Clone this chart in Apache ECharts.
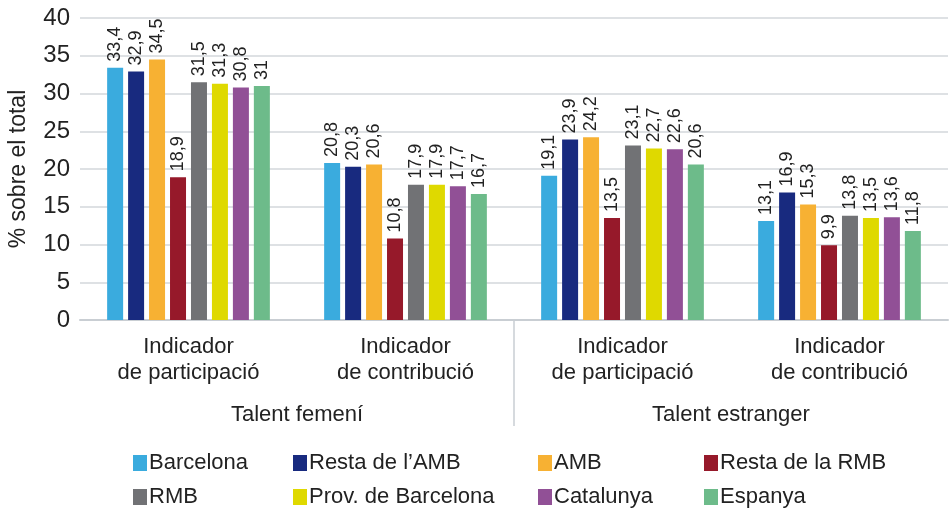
<!DOCTYPE html>
<html>
<head>
<meta charset="utf-8">
<script src="https://cdn.jsdelivr.net/npm/echarts@6/dist/echarts.min.js"></script>
<style>
  html, body { margin: 0; padding: 0; background: #fff; }
  #main { width: 952px; height: 514px; }
</style>
</head>
<body>
<div id="main"></div>
<script>
// categories and groups
var categories = ['Indicador\nde participació', 'Indicador\nde contribució', 'Indicador\nde participació', 'Indicador\nde contribució'];
var groups = ['Talent femení', 'Talent estranger'];
var yTicks = [0, 5, 10, 15, 20, 25, 30, 35, 40];

// series values (femení participació, femení contribució, estranger participació, estranger contribució)
var barcelona = [33.4, 20.8, 19.1, 13.1];
var restaAmb = [32.9, 20.3, 23.9, 16.9];
var amb = [34.5, 20.6, 24.2, 15.3];
var restaRmb = [18.9, 10.8, 13.5, 9.9];
var rmb = [31.5, 17.9, 23.1, 13.8];
var provBcn = [31.3, 17.9, 22.7, 13.5];
var catalunya = [30.8, 17.7, 22.6, 13.6];
var espanya = [31, 16.7, 20.6, 11.8];

var seriesNames = ['Barcelona', 'Resta de l\u2019AMB', 'AMB', 'Resta de la RMB', 'RMB', 'Prov. de Barcelona', 'Catalunya', 'Espanya'];
var seriesData = [barcelona, restaAmb, amb, restaRmb, rmb, provBcn, catalunya, espanya];
var colors = ['#3aabde', '#182a7f', '#f7b133', '#96192a', '#717275', '#dfd900', '#915096', '#6dbb8a'];

var font = 'Liberation Sans, Arial, sans-serif';
var textColor = '#222';

var series = seriesNames.map(function (name, i) {
  return {
    name: name,
    type: 'bar',
    xAxisIndex: 0,
    data: seriesData[i],
    barWidth: 16,
    barGap: '31%',
    itemStyle: { color: colors[i] },
    label: {
      show: true,
      position: 'top',
      rotate: 90,
      align: 'left',
      verticalAlign: 'middle',
      distance: 6,
      fontFamily: font,
      fontSize: 18,
      color: textColor,
      formatter: function (p) { return String(p.value).replace('.', ','); }
    }
  };
});

// legend: 4 columns x 2 rows, one legend per item
var legendCols = [133, 293, 538, 704];
var legendRows = [452, 486];
var legends = seriesNames.map(function (name, i) {
  return {
    left: legendCols[i % 4],
    top: legendRows[Math.floor(i / 4)],
    itemWidth: 14,
    itemHeight: 16,
    itemGap: 0,
    padding: 0,
    icon: 'rect',
    data: [name],
    textStyle: { fontFamily: font, fontSize: 22, color: textColor, padding: [0, 0, 0, -3] }
  };
});

var option = {
  animation: false,
  textStyle: { fontFamily: font },
  grid: { left: 80, right: 4, top: 18, bottom: 194, containLabel: false, outerBoundsMode: 'none' },
  legend: legends,
  xAxis: [
    {
      type: 'category',
      data: categories,
      axisLine: { lineStyle: { color: '#c9ced3', width: 2 } },
      axisTick: { show: false },
      axisLabel: { fontFamily: font, fontSize: 22, color: textColor, lineHeight: 26, margin: 14 }
    },
    {
      type: 'category',
      data: groups,
      position: 'bottom',
      offset: 80,
      axisLine: { show: false },
      axisTick: { show: false },
      axisLabel: { fontFamily: font, fontSize: 22, color: textColor, margin: 4 }
    }
  ],
  yAxis: {
    type: 'value',
    min: yTicks[0],
    max: yTicks[yTicks.length - 1],
    interval: 5,
    name: '% sobre el total',
    nameLocation: 'middle',
    nameGap: 50,
    nameTextStyle: { fontFamily: font, fontSize: 23, color: textColor },
    axisLine: { show: false },
    axisTick: { show: false },
    axisLabel: { fontFamily: font, fontSize: 24, color: textColor, margin: 10 },
    splitLine: { lineStyle: { color: '#d3d7db', width: 1.5 } }
  },
  series: series
};

var chart = echarts.init(document.getElementById('main'));
chart.setOption(option);

// separator between the two groups, placed from the axis scale
var sepX = (chart.convertToPixel({ xAxisIndex: 0 }, 1) + chart.convertToPixel({ xAxisIndex: 0 }, 2)) / 2;
var baseY = chart.convertToPixel({ yAxisIndex: 0 }, 0);
chart.setOption({
  graphic: [{
    type: 'line',
    shape: { x1: sepX, y1: baseY, x2: sepX, y2: baseY + 106 },
    style: { stroke: '#c9ced3', lineWidth: 1.5 }
  }]
});
</script>
</body>
</html>
